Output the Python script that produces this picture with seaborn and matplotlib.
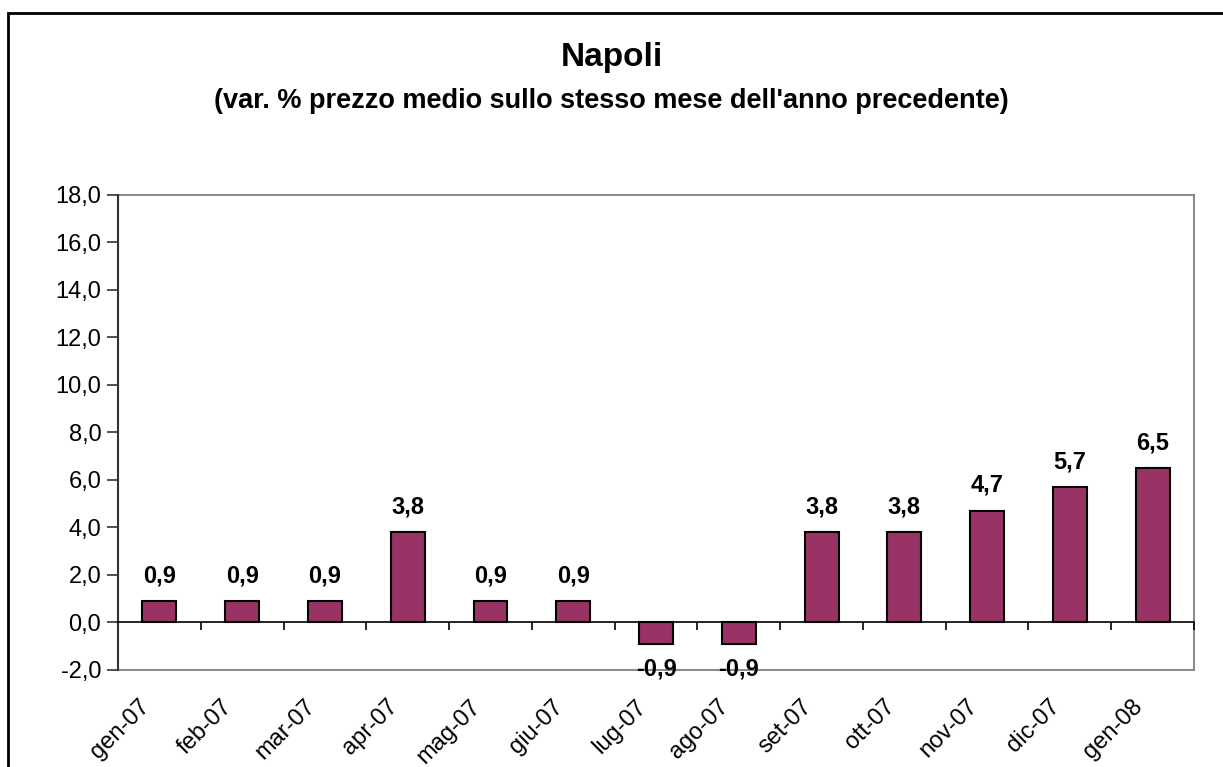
import numpy as np
import pandas as pd
import seaborn as sns
import matplotlib.pyplot as plt
from matplotlib.patches import Rectangle
from matplotlib.ticker import FuncFormatter, FixedLocator
from matplotlib.transforms import ScaledTranslation

# Dati
mesi = ['gen-07', 'feb-07', 'mar-07', 'apr-07', 'mag-07', 'giu-07', 'lug-07',
        'ago-07', 'set-07', 'ott-07', 'nov-07', 'dic-07', 'gen-08']
variazioni = [0.9, 0.9, 0.9, 3.8, 0.9, 0.9, -0.9, -0.9, 3.8, 3.8, 4.7, 5.7, 6.5]
y_ticks = [-2, 0, 2, 4, 6, 8, 10, 12, 14, 16, 18]

titolo = 'Napoli'
sottotitolo = "(var. % prezzo medio sullo stesso mese dell'anno precedente)"


def virgola(v, pos=None):
    return f"{v:.1f}".replace('.', ',')


def main():
    sns.set_theme(style='white')
    plt.rcParams['font.family'] = ['Liberation Sans', 'DejaVu Sans']
    plt.rcParams['text.color'] = 'black'
    plt.rcParams['xtick.labelcolor'] = 'black'
    plt.rcParams['ytick.labelcolor'] = 'black'

    df = pd.DataFrame({'mese': mesi, 'var': variazioni})

    fig = plt.figure(figsize=(12.23, 7.67), dpi=100)
    ax = fig.add_axes([0.0965, 0.1265, 0.8798, 0.6193])

    sns.barplot(data=df, x='mese', y='var', color='#993366', saturation=1,
                width=0.41, edgecolor='black', linewidth=1.5, ax=ax)

    ax.set_ylim(-2, 18)
    ax.set_xlim(-0.5, len(mesi) - 0.5)
    ax.set_yticks(y_ticks)
    ax.yaxis.set_major_formatter(FuncFormatter(virgola))
    ax.tick_params(axis='y', which='major', length=8, width=1.2, color='#333333',
                   direction='out', left=True, labelsize=17, pad=4)

    # asse x sullo zero, tacche tra le categorie
    ax.spines['bottom'].set_position(('data', 0))
    ax.spines['bottom'].set_color('black')
    ax.spines['bottom'].set_linewidth(1.2)
    ax.xaxis.set_minor_locator(FixedLocator(np.arange(-0.5, len(mesi), 1.0)))
    ax.tick_params(axis='x', which='minor', length=6, width=1.2, color='black',
                   direction='out', bottom=True)
    ax.tick_params(axis='x', which='major', length=0, labelsize=17, pad=46)
    spost = ScaledTranslation(-0.21, -0.09, fig.dpi_scale_trans)
    for lab in ax.get_xticklabels():
        lab.set_rotation(45)
        lab.set_ha('right')
        lab.set_rotation_mode('anchor')
        lab.set_transform(lab.get_transform() + spost)

    ax.spines['left'].set_color('#333333')
    ax.spines['left'].set_linewidth(1.5)
    ax.spines['top'].set_visible(False)
    ax.spines['right'].set_visible(False)

    # cornice grigia dell'area del grafico
    ax.add_patch(Rectangle((0, 0), 1, 1, transform=ax.transAxes, fill=False,
                           edgecolor='#8c8c8c', linewidth=1.5, clip_on=False, zorder=0))

    ax.set_xlabel('')
    ax.set_ylabel('')

    etichette = [virgola(v) for v in variazioni]
    ax.bar_label(ax.containers[0], labels=etichette, padding=10,
                 fontsize=17, fontweight='bold', color='black')

    fig.text(0.5, 0.9244, titolo, ha='center', va='center', fontsize=24, fontweight='bold')
    fig.text(0.5, 0.868, sottotitolo, ha='center', va='center', fontsize=19.5, fontweight='bold')

    # cornice esterna
    fig.patches.append(Rectangle((8 / 1223, -0.1), 1.2, 0.983 + 0.1, transform=fig.transFigure,
                                 fill=False, edgecolor='black', linewidth=2))

    fig.savefig('out.png', dpi=100)


if __name__ == "__main__":
    main()
